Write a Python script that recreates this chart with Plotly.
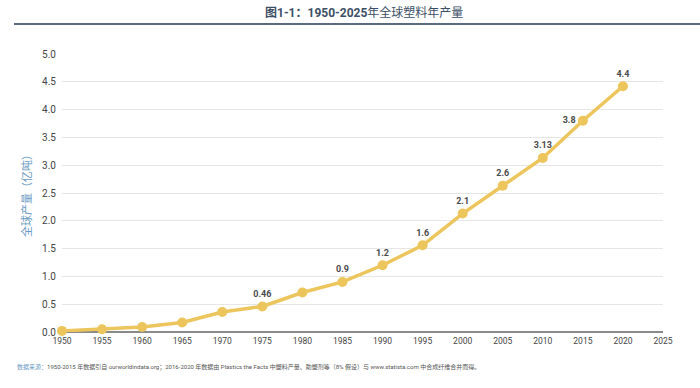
import plotly.graph_objects as go

years = [1950, 1955, 1960, 1965, 1970, 1975, 1980, 1985, 1990, 1995, 2000, 2005, 2010, 2015, 2020]
production = [0.02, 0.05, 0.09, 0.17, 0.36, 0.46, 0.71, 0.9, 1.2, 1.56, 2.13, 2.63, 3.13, 3.8, 4.42]
point_labels = ["", "", "", "", "", "0.46", "", "0.9", "1.2", "1.6", "2.1", "2.6", "3.13", "3.8", "4.4"]
label_pos = ["top center"] * 13 + ["middle left", "top center"]
x_ticks = list(range(1950, 2030, 5))
y_ticks = [0, 0.5, 1.0, 1.5, 2.0, 2.5, 3.0, 3.5, 4.0, 4.5, 5.0]

LINE = "#ECC55C"
FONT = "Roboto, 'Noto Sans CJK SC', sans-serif"

W, H = 700, 388
L, R, T, B = 62, 37, 54, 56

fig = go.Figure()
fig.add_trace(go.Scatter(
    x=years, y=production, mode="lines+markers+text",
    line=dict(color=LINE, width=3.5),
    marker=dict(color=LINE, size=10),
    text=point_labels, textposition=label_pos,
    textfont=dict(size=9, color="#4a4a4a", family="Roboto, sans-serif", weight="bold"),
    cliponaxis=False, hoverinfo="x+y", showlegend=False,
))

fig.update_layout(
    width=W, height=H,
    margin=dict(l=L, r=R, t=T, b=B),
    paper_bgcolor="white", plot_bgcolor="white",
    font=dict(family=FONT, color="#444"),
    xaxis=dict(range=[1950, 2025], tickvals=x_ticks, ticktext=[str(v) for v in x_ticks],
               showgrid=False, zeroline=False, showline=False, ticks="",
               tickfont=dict(size=8.5, color="#444"), ticklabelstandoff=2),
    yaxis=dict(range=[0, 5], tickvals=y_ticks, ticktext=[f"{v:.1f}" for v in y_ticks],
               showgrid=True, gridcolor="#e6e6e6", gridwidth=1,
               zeroline=True, zerolinecolor="#8a8a8a", zerolinewidth=2,
               showline=False, ticks="", tickfont=dict(size=10, color="#444"),
               ticklabelstandoff=5,
               title=dict(text="全球产量（亿吨）", font=dict(size=11, color="#6b9ac4"), standoff=8)),
)

pw = W - L - R
ph = H - T - B
def px_x(px):
    return (px - L) / pw
def px_y(py):
    return (H - B - py) / ph

fig.add_annotation(
    text="<b>图1-1：1950-2025</b>年全球塑料年产量",
    xref="paper", yref="paper", x=px_x(364), y=px_y(12), xanchor="center", yanchor="middle",
    showarrow=False, font=dict(size=12, color="#3d4f66"),
)
fig.add_shape(type="line", xref="paper", yref="paper",
              x0=px_x(14), x1=px_x(700), y0=px_y(24), y1=px_y(24),
              line=dict(color="#5a6b80", width=2))

fig.add_annotation(
    text="<span style='color:#6b9ac4'>数据来源：</span>1950-2015 年数据引自 ourworldindata.org；2016-2020 年数据由 Plastics the Facts 中塑料产量、助塑剂等（8% 假设）与 www.statista.com 中合成纤维合并而得。",
    xref="paper", yref="paper", x=px_x(15), y=px_y(367), xanchor="left", yanchor="middle",
    showarrow=False, font=dict(size=6, color="#555"),
)

fig.write_html("out.html", config={"displayModeBar": False},
               post_script="document.body.style.margin='0';document.body.style.padding='0';")
